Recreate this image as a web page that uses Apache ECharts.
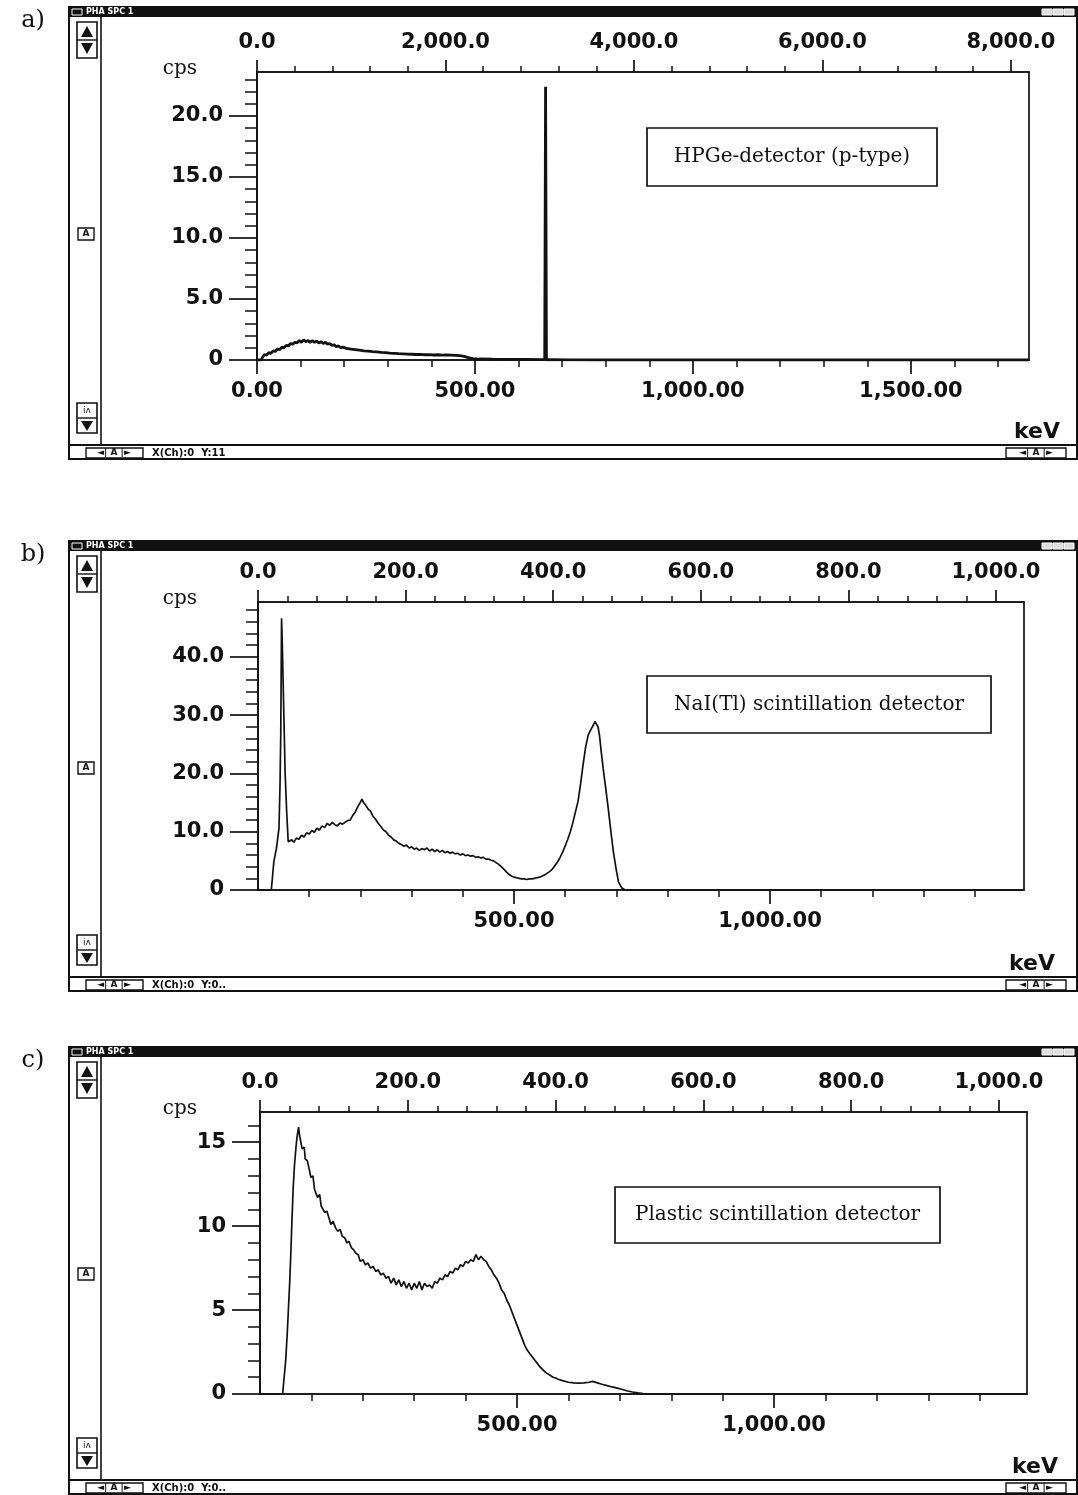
<!DOCTYPE html>
<html>
<head>
<meta charset="utf-8">
<title>Detector spectra</title>
<script src="https://cdn.jsdelivr.net/npm/echarts@6.0.0/dist/echarts.min.js"></script>
<style>
  html, body { margin: 0; padding: 0; background: #fff; }
  #chart { width: 1078px; height: 1495px; }
</style>
</head>
<body>
<div id="chart"></div>
<script>
// spectra: [energy keV, count rate cps]
const hpgeSpectrum = [
  [0, 0], [10, 0], [13, 0.25], [17, 0.45], [22, 0.4], [27, 0.6], [32, 0.55], [37, 0.75], [42, 0.7],
  [47, 0.9], [52, 0.85], [57, 1.05], [62, 1.0], [67, 1.2], [72, 1.15], [77, 1.35], [82, 1.3], [87, 1.45],
  [92, 1.4], [97, 1.6], [102, 1.45], [107, 1.65], [112, 1.5], [117, 1.6], [122, 1.45], [127, 1.6],
  [132, 1.45], [137, 1.55], [142, 1.4], [147, 1.5], [152, 1.35], [157, 1.45], [162, 1.3], [167, 1.35],
  [172, 1.2], [177, 1.25], [182, 1.1], [187, 1.15], [192, 1.0], [197, 1.05], [205, 0.95], [215, 0.9],
  [225, 0.85], [235, 0.8], [245, 0.75], [255, 0.72], [265, 0.68], [275, 0.66], [285, 0.62], [295, 0.6],
  [305, 0.57], [315, 0.55], [325, 0.52], [335, 0.5], [345, 0.48], [355, 0.47], [365, 0.45], [375, 0.46],
  [385, 0.43], [395, 0.44], [405, 0.41], [415, 0.43], [425, 0.4], [435, 0.42], [445, 0.4], [455, 0.38],
  [465, 0.36], [475, 0.3], [485, 0.2], [495, 0.12], [510, 0.08], [540, 0.06], [580, 0.05], [620, 0.04],
  [655, 0.03], [660, 0.03], [662, 22.4], [664, 0.02], [670, 0.02], [720, 0.01], [800, 0], [1771, 0]
];

const naiSpectrum = [
  [0, 0], [26, 0], [31, 4.9], [36, 7.1], [41, 10.6], [43, 18], [44.5, 27], [46, 46.6], [47.5, 42],
  [49, 36], [51, 28], [53, 20], [56, 13.4], [59, 8.3], [62, 8.0], [66, 8.6], [70, 8.2], [75, 8.9],
  [80, 8.7], [85, 9.4], [90, 9.1], [95, 9.8], [100, 9.6], [105, 10.2], [110, 9.9], [115, 10.6],
  [120, 10.3], [125, 11.0], [130, 10.7], [135, 11.4], [140, 11.1], [145, 11.6], [150, 11.2], [155, 11.0],
  [160, 11.5], [165, 11.3], [170, 11.6], [175, 11.9], [180, 12.0], [185, 12.8], [190, 13.4], [195, 14.3],
  [199, 14.9], [203, 15.6], [206, 15.0], [210, 14.6], [215, 13.9], [220, 13.5], [225, 12.6], [230, 12.1],
  [235, 11.4], [240, 10.9], [245, 10.3], [250, 10.0], [255, 9.4], [260, 9.1], [265, 8.6], [270, 8.4],
  [275, 8.0], [280, 7.8], [285, 7.5], [290, 7.7], [295, 7.2], [300, 7.4], [305, 7.0], [310, 7.2],
  [315, 6.8], [320, 7.1], [325, 6.9], [330, 7.2], [335, 6.7], [340, 7.0], [345, 6.6], [350, 6.9],
  [355, 6.5], [360, 6.8], [365, 6.4], [370, 6.6], [375, 6.3], [380, 6.5], [385, 6.2], [390, 6.3],
  [395, 6.0], [400, 6.2], [405, 5.9], [410, 6.0], [415, 5.8], [420, 5.9], [425, 5.6], [430, 5.7],
  [435, 5.5], [440, 5.6], [445, 5.3], [450, 5.3], [455, 5.1], [460, 5.0], [465, 4.7], [470, 4.4],
  [475, 4.0], [480, 3.6], [485, 3.1], [490, 2.7], [495, 2.4], [500, 2.2], [505, 2.1], [510, 2.0],
  [515, 1.9], [520, 1.9], [525, 1.8], [530, 1.9], [535, 1.9], [540, 2.0], [545, 2.1], [550, 2.2],
  [555, 2.4], [560, 2.6], [565, 2.9], [570, 3.2], [575, 3.6], [580, 4.2], [585, 4.8], [590, 5.6],
  [595, 6.5], [600, 7.6], [605, 8.7], [610, 10.0], [615, 11.6], [620, 13.4], [625, 15.2], [630, 18.2],
  [635, 21.6], [640, 24.6], [645, 26.6], [650, 27.5], [655, 28.3], [658, 28.9], [661, 28.6], [664, 28.0],
  [667, 26.5], [670, 24.0], [674, 20.9], [679, 17.5], [684, 14.0], [689, 10.2], [694, 6.6], [699, 3.8],
  [704, 1.4], [710, 0.4], [717, 0], [1496, 0]
];

const plasticSpectrum = [
  [0, 0], [44, 0], [47, 1.0], [50, 2.0], [53, 3.6], [55.5, 5.2], [58, 6.8], [60, 8.4], [62, 10.2],
  [64.6, 12.3], [67, 13.6], [70, 14.7], [72, 15.3], [75, 15.9], [77, 15.4], [79.5, 15.3], [82, 14.6],
  [86, 14.7], [88, 14.0], [92, 13.9], [95.7, 13.4], [99, 12.9], [103, 13.0], [106, 12.2], [108.7, 12.3],
  [112, 11.7], [116, 11.9], [119, 11.2], [122, 11.3], [126, 10.8], [130, 10.9], [134, 10.5], [138, 10.1],
  [142, 10.3], [147, 9.9], [151, 9.7], [156, 9.8], [160, 9.4], [165, 9.3], [169, 9.0], [173, 9.1],
  [178, 8.7], [182, 8.6], [186, 8.4], [191, 8.3], [195, 7.9], [200, 8.0], [205, 7.7], [210, 7.8],
  [215, 7.5], [220, 7.6], [225, 7.3], [230, 7.4], [235, 7.1], [240, 7.2], [245, 6.9], [250, 7.0],
  [255, 6.6], [260, 6.9], [265, 6.5], [270, 6.8], [275, 6.4], [280, 6.7], [285, 6.3], [290, 6.6],
  [295, 6.2], [300, 6.6], [305, 6.3], [310, 6.7], [315, 6.2], [320, 6.6], [325, 6.4], [330, 6.5],
  [335, 6.3], [340, 6.7], [345, 6.6], [350, 6.9], [355, 6.8], [360, 7.1], [365, 7.0], [370, 7.3],
  [375, 7.2], [380, 7.5], [385, 7.4], [390, 7.7], [395, 7.6], [400, 7.9], [405, 7.8], [410, 8.0],
  [415, 7.9], [420, 8.3], [425, 8.0], [430, 8.2], [435, 8.0], [440, 7.9], [445, 7.6], [450, 7.4],
  [455, 7.1], [460, 6.9], [465, 6.6], [470, 6.2], [475, 6.0], [480, 5.6], [485, 5.3], [490, 4.9],
  [495, 4.5], [500, 4.1], [505, 3.7], [510, 3.3], [515, 2.9], [520, 2.6], [525, 2.4], [530, 2.2],
  [535, 2.0], [540, 1.8], [545, 1.6], [550, 1.45], [555, 1.3], [560, 1.2], [565, 1.1], [570, 1.0],
  [575, 0.95], [580, 0.88], [590, 0.78], [600, 0.7], [610, 0.66], [620, 0.65], [630, 0.66], [640, 0.7],
  [647, 0.75], [655, 0.68], [665, 0.58], [675, 0.5], [685, 0.42], [695, 0.35], [705, 0.27], [715, 0.18],
  [725, 0.12], [735, 0.07], [745, 0.03], [755, 0], [1492, 0]
];

// tick positions
const keVMajorA = [0, 500, 1000, 1500];
const keVMinorA = [100, 200, 300, 400, 600, 700, 800, 900, 1100, 1200, 1300, 1400, 1600, 1700];
const keVMajorBC = [500, 1000];
const keVMinorBC = [100, 200, 300, 400, 600, 700, 800, 900, 1100, 1200, 1300, 1400];
const chMajorA = [0, 2000, 4000, 6000, 8000];
const chMinorA = [400, 800, 1200, 1600, 2400, 2800, 3200, 3600, 4400, 4800, 5200, 5600, 6400, 6800, 7200, 7600];
const chMajorBC = [0, 200, 400, 600, 800, 1000];
const chMinorBC = [40, 80, 120, 160, 240, 280, 320, 360, 440, 480, 520, 560, 640, 680, 720, 760, 840, 880, 920, 960];
const cpsMajorA = [0, 5, 10, 15, 20];
const cpsMinorA = [1, 2, 3, 4, 6, 7, 8, 9, 11, 12, 13, 14, 16, 17, 18, 19, 21, 22, 23];
const cpsMajorB = [0, 10, 20, 30, 40];
const cpsMinorB = [2, 4, 6, 8, 12, 14, 16, 18, 22, 24, 26, 28, 32, 34, 36, 38, 42, 44, 46, 48];
const cpsMajorC = [0, 5, 10, 15];
const cpsMinorC = [1, 2, 3, 4, 6, 7, 8, 9, 11, 12, 13, 14, 16];

const detectorNames = ['HPGe-detector (p-type)', 'NaI(Tl) scintillation detector', 'Plastic scintillation detector'];
const panelTags = ['a)', 'b)', 'c)'];
const statusTexts = ['X(Ch):0  Y:11', 'X(Ch):0  Y:0..', 'X(Ch):0  Y:0..'];

const INK = '#111';
const AXIS_FONT = 'DejaVu Sans';
const SERIF = '"DejaVu Serif"';

const fmt = (v, d) => v.toLocaleString('en-US', { minimumFractionDigits: d, maximumFractionDigits: d });

const panels = [
  { left: 257, top: 72, width: 772, height: 288, keVMax: 1771, chMax: 8192, yMax: 23.6,
    keVMajor: keVMajorA, keVMinor: keVMinorA, chMajor: chMajorA, chMinor: chMinorA,
    yMajor: cpsMajorA, yMinor: cpsMinorA, yFmt: v => (v === 0 ? '0' : fmt(v, 1)),
    data: hpgeSpectrum, lineWidth: 2.8,
    box: { x: 647, y: 128, w: 290, h: 58 }, frame: { T: 7, S: 445, B: 459 } },
  { left: 258, top: 602, width: 766, height: 288, keVMax: 1496, chMax: 1038, yMax: 49.4,
    keVMajor: keVMajorBC, keVMinor: keVMinorBC, chMajor: chMajorBC, chMinor: chMinorBC,
    yMajor: cpsMajorB, yMinor: cpsMinorB, yFmt: v => (v === 0 ? '0' : fmt(v, 1)),
    data: naiSpectrum, lineWidth: 1.7,
    box: { x: 647, y: 676, w: 344, h: 57 }, frame: { T: 541, S: 977, B: 991 } },
  { left: 260, top: 1112, width: 767, height: 282, keVMax: 1492, chMax: 1038, yMax: 16.8,
    keVMajor: keVMajorBC, keVMinor: keVMinorBC, chMajor: chMajorBC, chMinor: chMinorBC,
    yMajor: cpsMajorC, yMinor: cpsMinorC, yFmt: v => String(v),
    data: plasticSpectrum, lineWidth: 1.7,
    box: { x: 615, y: 1187, w: 325, h: 56 }, frame: { T: 1047, S: 1480, B: 1494 } }
];

const labelStyle = { color: INK, fontFamily: AXIS_FONT, fontWeight: 'bold', fontSize: 21 };

const grid = [], xAxis = [], yAxis = [], series = [], graphic = [];

panels.forEach((p, i) => {
  grid.push({ left: p.left, top: p.top, width: p.width, height: p.height, show: true,
    borderColor: INK, borderWidth: 1.7, backgroundColor: 'transparent' });

  const xBase = { type: 'value', gridIndex: i, min: 0, splitLine: { show: false } };
  const lineOn = { show: true, onZero: false, lineStyle: { color: INK, width: 1.7 } };
  const lineOff = { show: false, onZero: false };

  // bottom energy axis (major + minor ticks)
  const keVIdx = xAxis.length;
  xAxis.push(Object.assign({}, xBase, { position: 'bottom', max: p.keVMax, axisLine: lineOn,
    axisTick: { show: true, customValues: p.keVMajor, length: 14, lineStyle: { color: INK, width: 1.7 } },
    axisLabel: Object.assign({ customValues: p.keVMajor, margin: 21, formatter: v => fmt(v, 2) }, labelStyle) }));
  xAxis.push(Object.assign({}, xBase, { position: 'bottom', max: p.keVMax, axisLine: lineOff,
    axisTick: { show: true, customValues: p.keVMinor, length: 7, lineStyle: { color: INK, width: 1.5 } },
    axisLabel: { show: false } }));
  // top channel axis
  xAxis.push(Object.assign({}, xBase, { position: 'top', max: p.chMax, axisLine: lineOn,
    axisTick: { show: true, customValues: p.chMajor, length: 12, lineStyle: { color: INK, width: 1.7 } },
    axisLabel: Object.assign({ customValues: p.chMajor, margin: 19, formatter: v => fmt(v, 1) }, labelStyle) }));
  xAxis.push(Object.assign({}, xBase, { position: 'top', max: p.chMax, axisLine: lineOff,
    axisTick: { show: true, customValues: p.chMinor, length: 6, lineStyle: { color: INK, width: 1.5 } },
    axisLabel: { show: false } }));

  // left cps axis
  const yIdx = yAxis.length;
  yAxis.push({ type: 'value', gridIndex: i, position: 'left', min: 0, max: p.yMax, splitLine: { show: false },
    axisLine: lineOn,
    axisTick: { show: true, customValues: p.yMajor, length: 28, lineStyle: { color: INK, width: 1.7 } },
    axisLabel: Object.assign({ customValues: p.yMajor, margin: 34, formatter: p.yFmt }, labelStyle) });
  yAxis.push({ type: 'value', gridIndex: i, position: 'left', min: 0, max: p.yMax, splitLine: { show: false },
    axisLine: lineOff,
    axisTick: { show: true, customValues: p.yMinor, length: 12, lineStyle: { color: INK, width: 1.5 } },
    axisLabel: { show: false } });

  series.push({ type: 'line', xAxisIndex: keVIdx, yAxisIndex: yIdx, data: p.data, showSymbol: false,
    lineStyle: { color: INK, width: p.lineWidth }, silent: true });

  // detector caption box
  graphic.push({ type: 'rect', shape: { x: p.box.x, y: p.box.y, width: p.box.w, height: p.box.h },
    style: { fill: '#fff', stroke: INK, lineWidth: 1.7 } });
  graphic.push({ type: 'text', x: p.box.x + p.box.w / 2, y: p.box.y + p.box.h / 2,
    style: { text: detectorNames[i], font: '20px ' + SERIF, fill: INK, align: 'center', verticalAlign: 'middle' } });

  // axis unit captions and panel tag
  graphic.push({ type: 'text', x: 180, y: p.top - 3, style: { text: 'cps', font: '20px ' + SERIF, fill: INK, align: 'center', verticalAlign: 'middle' } });
  graphic.push({ type: 'text', x: p.left + p.width + 8, y: p.frame.S - 13, style: { text: 'keV', font: 'bold 22px "DejaVu Sans"', fill: INK, align: 'center', verticalAlign: 'middle' } });
  graphic.push({ type: 'text', x: 33, y: p.frame.T + 14, style: { text: panelTags[i], font: '24px ' + SERIF, fill: INK, align: 'center', verticalAlign: 'middle' } });

  // window chrome of the acquisition program
  const f = p.frame;
  graphic.push({ type: 'rect', shape: { x: 69, y: f.T, width: 1008, height: f.B - f.T }, style: { fill: 'none', stroke: INK, lineWidth: 2 } });
  graphic.push({ type: 'rect', shape: { x: 69, y: f.T, width: 1008, height: 10 }, style: { fill: INK } });
  graphic.push({ type: 'text', x: 86, y: f.T + 1, style: { text: 'PHA SPC 1', font: 'bold 8px "DejaVu Sans"', fill: '#fff' } });
  graphic.push({ type: 'rect', shape: { x: 72, y: f.T + 2, width: 10, height: 6 }, style: { fill: 'none', stroke: '#fff', lineWidth: 1 } });
  [1042, 1053, 1064].forEach(x => graphic.push({ type: 'rect', shape: { x: x, y: f.T + 2, width: 10, height: 6 }, style: { fill: '#ddd', stroke: '#fff', lineWidth: 1 } }));
  graphic.push({ type: 'line', shape: { x1: 101, y1: f.T + 10, x2: 101, y2: f.S }, style: { stroke: INK, lineWidth: 1.6 } });
  graphic.push({ type: 'line', shape: { x1: 69, y1: f.S, x2: 1077, y2: f.S }, style: { stroke: INK, lineWidth: 2 } });
  // scroll buttons
  graphic.push({ type: 'rect', shape: { x: 77, y: f.T + 15, width: 20, height: 36 }, style: { fill: '#fff', stroke: INK, lineWidth: 1.6 } });
  graphic.push({ type: 'line', shape: { x1: 77, y1: f.T + 33, x2: 97, y2: f.T + 33 }, style: { stroke: INK, lineWidth: 1.4 } });
  graphic.push({ type: 'polygon', shape: { points: [[87, f.T + 19], [81, f.T + 30], [93, f.T + 30]] }, style: { fill: INK } });
  graphic.push({ type: 'polygon', shape: { points: [[81, f.T + 36], [93, f.T + 36], [87, f.T + 47]] }, style: { fill: INK } });
  graphic.push({ type: 'rect', shape: { x: 78, y: f.T + 221, width: 16, height: 12 }, style: { fill: '#fff', stroke: INK, lineWidth: 1.4 } });
  graphic.push({ type: 'text', x: 86, y: f.T + 227, style: { text: 'A', font: 'bold 9px "DejaVu Sans"', fill: INK, align: 'center', verticalAlign: 'middle' } });
  graphic.push({ type: 'rect', shape: { x: 77, y: f.S - 42, width: 20, height: 30 }, style: { fill: '#fff', stroke: INK, lineWidth: 1.6 } });
  graphic.push({ type: 'line', shape: { x1: 77, y1: f.S - 27, x2: 97, y2: f.S - 27 }, style: { stroke: INK, lineWidth: 1.4 } });
  graphic.push({ type: 'polygon', shape: { points: [[81, f.S - 24], [93, f.S - 24], [87, f.S - 14]] }, style: { fill: INK } });
  graphic.push({ type: 'text', x: 87, y: f.S - 34, style: { text: 'ı̇ʌ', font: '9px "DejaVu Sans"', fill: INK, align: 'center', verticalAlign: 'middle' } });
  // status bar
  graphic.push({ type: 'rect', shape: { x: 86, y: f.S + 3, width: 57, height: 10 }, style: { fill: '#fff', stroke: INK, lineWidth: 1.4 } });
  graphic.push({ type: 'text', x: 114, y: f.S + 8, style: { text: '◄| A |►', font: 'bold 9px "DejaVu Sans"', fill: INK, align: 'center', verticalAlign: 'middle' } });
  graphic.push({ type: 'text', x: 152, y: f.S + 8, style: { text: statusTexts[i], font: 'bold 10px "DejaVu Sans"', fill: INK, verticalAlign: 'middle' } });
  graphic.push({ type: 'rect', shape: { x: 1006, y: f.S + 3, width: 60, height: 10 }, style: { fill: '#fff', stroke: INK, lineWidth: 1.4 } });
  graphic.push({ type: 'text', x: 1036, y: f.S + 8, style: { text: '◄| A |►', font: 'bold 9px "DejaVu Sans"', fill: INK, align: 'center', verticalAlign: 'middle' } });
});

const chart = echarts.init(document.getElementById('chart'), null, { renderer: 'canvas' });
chart.setOption({
  backgroundColor: '#fff',
  animation: false,
  grid: grid,
  xAxis: xAxis,
  yAxis: yAxis,
  series: series,
  graphic: graphic
});
</script>
</body>
</html>
